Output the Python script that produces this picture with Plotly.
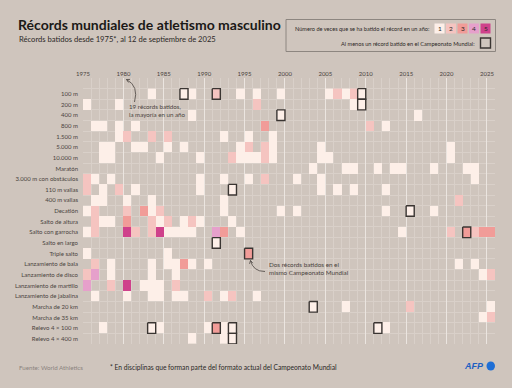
import plotly.graph_objects as go
import math

# ---------------- DATA ----------------
years = list(range(1975, 2026))
disciplines = ["100 m", "200 m", "400 m", "800 m", "1.500 m", "5.000 m", "10.000 m", "Maratón",
               "3.000 m con obstáculos", "110 m vallas", "400 m vallas", "Decatlón", "Salto de altura",
               "Salto con garrocha", "Salto en largo", "Triple salto", "Lanzamiento de bala",
               "Lanzamiento de disco", "Lanzamiento de martillo", "Lanzamiento de jabalina",
               "Marcha de 20 km", "Marcha de 35 km", "Relevo 4 × 100 m", "Relevo 4 × 400 m"]

# (year, number of records that year)
rec_100 = [(1983, 1), (1987, 1), (1988, 1), (1991, 2), (1994, 1), (1996, 1), (1999, 1), (2005, 1), (2006, 2), (2007, 1), (2008, 2), (2009, 1)]
rec_200 = [(1975, 1), (1979, 1), (1996, 2), (2008, 1), (2009, 1)]
rec_400 = [(1988, 1), (1999, 1), (2016, 1)]
rec_800 = [(1976, 1), (1977, 1), (1979, 1), (1981, 1), (1997, 3), (2010, 2), (2012, 1)]
rec_1500 = [(1979, 1), (1980, 2), (1983, 2), (1985, 2), (1992, 1), (1995, 1), (1998, 1)]
rec_5000 = [(1977, 1), (1978, 1), (1981, 1), (1982, 1), (1985, 1), (1987, 1), (1994, 1), (1995, 2), (1997, 2), (1998, 1), (2004, 1), (2020, 1)]
rec_10000 = [(1977, 1), (1978, 1), (1984, 1), (1989, 1), (1993, 2), (1994, 1), (1995, 1), (1996, 1), (1997, 2), (1998, 1), (2004, 1), (2005, 1), (2020, 1)]
rec_maraton = [(2003, 1), (2007, 1), (2008, 1), (2011, 1), (2013, 1), (2014, 1), (2018, 1), (2022, 1), (2023, 1)]
rec_obst = [(1975, 2), (1976, 1), (1978, 1), (1989, 1), (1992, 1), (1995, 1), (1997, 2), (2001, 1), (2004, 1), (2023, 1)]
rec_110v = [(1975, 2), (1977, 1), (1979, 2), (1981, 1), (1989, 1), (1993, 1), (2004, 1), (2006, 1), (2008, 1), (2012, 1)]
rec_400v = [(1976, 1), (1977, 1), (1980, 1), (1983, 1), (1992, 1), (2021, 2)]
rec_decat = [(1975, 1), (1976, 2), (1980, 2), (1982, 3), (1983, 1), (1984, 2), (1992, 1), (1999, 1), (2001, 1), (2012, 1), (2015, 1), (2018, 1)]
rec_altura = [(1976, 2), (1977, 1), (1978, 1), (1980, 3), (1983, 2), (1984, 1), (1985, 2), (1987, 1), (1988, 2), (1989, 1), (1993, 1)]
rec_garrocha = [(1975, 1), (1976, 2), (1980, 5), (1981, 2), (1983, 2), (1984, 5), (1985, 1), (1986, 1), (1987, 1), (1988, 1), (1991, 4), (1992, 3), (1994, 1), (2014, 1), (2020, 2), (2022, 3), (2023, 2), (2024, 3), (2025, 3)]
rec_largo = [(1991, 1)]
rec_triple = [(1975, 1), (1985, 1), (1995, 3)]
rec_bala = [(1976, 2), (1978, 1), (1983, 1), (1985, 1), (1986, 1), (1987, 3), (1988, 1), (1990, 1), (2021, 1), (2023, 1)]
rec_disco = [(1975, 2), (1976, 4), (1978, 1), (1983, 1), (1986, 1), (2024, 1), (2025, 2)]
rec_martillo = [(1975, 4), (1978, 2), (1980, 5), (1982, 1), (1983, 1), (1984, 1), (1986, 2)]
rec_jabalina = [(1976, 1), (1980, 1), (1983, 1), (1984, 1), (1986, 1), (1987, 1), (1990, 2), (1992, 1), (1993, 2), (1996, 1)]
rec_marcha20 = [(2003, 1), (2007, 1), (2015, 2), (2025, 1)]
rec_marcha35 = [(2024, 1), (2025, 2)]
rec_4x100 = [(1977, 1), (1983, 1), (1984, 1), (1990, 1), (1991, 3), (1992, 1), (1993, 1), (2011, 1), (2012, 1)]
rec_4x400 = [(1988, 1), (1992, 1), (1993, 1)]

records = [rec_100, rec_200, rec_400, rec_800, rec_1500, rec_5000, rec_10000, rec_maraton,
           rec_obst, rec_110v, rec_400v, rec_decat, rec_altura, rec_garrocha, rec_largo, rec_triple,
           rec_bala, rec_disco, rec_martillo, rec_jabalina, rec_marcha20, rec_marcha35, rec_4x100, rec_4x400]

# at least one record at the World Championships
wch_discipline = ["100 m", "100 m", "100 m", "200 m", "400 m", "110 m vallas", "Decatlón",
                  "Salto con garrocha", "Salto en largo", "Triple salto", "Marcha de 20 km",
                  "Relevo 4 × 100 m", "Relevo 4 × 100 m", "Relevo 4 × 100 m", "Relevo 4 × 100 m", "Relevo 4 × 400 m"]
wch_year = [1987, 1991, 2009, 2009, 1999, 1993, 2015, 2022, 1991, 1995, 2003, 1983, 1991, 1993, 2011, 1993]

legend_counts = [1, 2, 3, 4, 5]
year_ticks = list(range(1975, 2026, 5))

# ---------------- STYLE ----------------
BG = "#cfc5bd"
COLORS = ["#fdefe8", "#f5c4c0", "#f19c98", "#e6a0cb", "#cf418b"]
FONT = "Lato"
W, H = 512, 388
ML, MR, MT, MB = 83, 17, 78, 44
PW, PH = W - ML - MR, H - MT - MB

def pxx(x):  # pixel -> paper x
    return (x - ML) / PW

def pxy(y):  # pixel -> paper y
    return (H - MB - y) / PH

def dx(x):  # pixel -> data x
    return years[0] + (x - ML) / PW * (len(years))

def dy(y):  # pixel -> data y
    return -1.5 + (y - MT) / PH * 25

# ---------------- HEATMAP MATRIX ----------------
z = []
for rec in records:
    row = [None] * len(years)
    for yr, n in rec:
        row[yr - years[0]] = n
    z.append(row)

cs = []
for i, c in enumerate(COLORS):
    cs.append([i / 5, c])
    cs.append([(i + 1) / 5, c])

fig = go.Figure()
fig.add_trace(go.Heatmap(
    z=z,
    x=years + [years[-1] + 1],
    y=[i - 0.5 for i in range(len(disciplines) + 1)],
    zmin=0.5, zmax=5.5, colorscale=cs, showscale=False, hoverongaps=False,
))

# outlines for World Championship cells
ox, oy = [], []
for d, yr in zip(wch_discipline, wch_year):
    r = disciplines.index(d)
    ox += [yr, yr + 1, yr + 1, yr, yr, None]
    oy += [r - 0.5, r - 0.5, r + 0.5, r + 0.5, r - 0.5, None]
fig.add_trace(go.Scatter(x=ox, y=oy, mode="lines", line=dict(color="#3a3532", width=1.4),
                         hoverinfo="skip", showlegend=False))

shapes = []
annotations = []

def arrow(p0, c, p1):
    path = f"M {dx(p0[0])},{dy(p0[1])} Q {dx(c[0])},{dy(c[1])} {dx(p1[0])},{dy(p1[1])}"
    shapes.append(dict(type="path", path=path, xref="x", yref="y",
                       line=dict(color="#4a4440", width=0.8)))
    vx, vy = p1[0] - c[0], p1[1] - c[1]
    L = math.hypot(vx, vy)
    vx, vy = vx / L, vy / L
    for ang in (0.5, -0.5):
        ca, sa = math.cos(ang), math.sin(ang)
        bx = -(vx * ca - vy * sa) * 3.5
        by = -(vx * sa + vy * ca) * 3.5
        shapes.append(dict(type="line", xref="x", yref="y",
                           x0=dx(p1[0]), y0=dy(p1[1]), x1=dx(p1[0] + bx), y1=dy(p1[1] + by),
                           line=dict(color="#4a4440", width=0.8)))

arrow((134.5, 102), (139, 86), (126.5, 79.5))
arrow((265, 271.5), (253, 271.5), (250.5, 260.5))

annotations.append(dict(text="19 récords batidos,<br>la mayoría en un año", xref="paper", yref="paper",
                        x=pxx(126.5), y=pxy(110), xanchor="left", yanchor="middle", align="left",
                        showarrow=False, font=dict(family=FONT, size=6.2, color="#4a4440")))
annotations.append(dict(text="Dos récords batidos en el<br>mismo Campeonato Mundial", xref="paper", yref="paper",
                        x=pxx(266.5), y=pxy(268.5), xanchor="left", yanchor="middle", align="left",
                        showarrow=False, font=dict(family=FONT, size=6.3, color="#4a4440")))

# title / subtitle
annotations.append(dict(text="<b>Récords mundiales de atletismo masculino</b>", xref="paper", yref="paper",
                        x=pxx(16), y=pxy(25), xanchor="left", yanchor="middle", showarrow=False,
                        font=dict(family=FONT, size=14, color="#1b1917")))
annotations.append(dict(text="Récords batidos desde 1975*, al 12 de septiembre de 2025", xref="paper", yref="paper",
                        x=pxx(16.5), y=pxy(39), xanchor="left", yanchor="middle", showarrow=False,
                        font=dict(family=FONT, size=7.6, color="#2b2826")))

# legend box
shapes.append(dict(type="rect", xref="paper", yref="paper", x0=pxx(286), x1=pxx(495.5),
                   y0=pxy(19.5), y1=pxy(51.5), line=dict(color="#8d8680", width=1)))
annotations.append(dict(text="Número de veces que se ha batido el récord en un año:", xref="paper", yref="paper",
                        x=pxx(432), y=pxy(28.5), xanchor="right", yanchor="middle", showarrow=False,
                        font=dict(family=FONT, size=5.6, color="#2b2826")))
for i, n in enumerate(legend_counts):
    x0 = 434.5 + 11.5 * i
    shapes.append(dict(type="rect", xref="paper", yref="paper", x0=pxx(x0), x1=pxx(x0 + 10),
                       y0=pxy(23.5), y1=pxy(33.5), fillcolor=COLORS[n - 1], line=dict(width=0)))
    annotations.append(dict(text=str(n), xref="paper", yref="paper", x=pxx(x0 + 5), y=pxy(28.5),
                            xanchor="center", yanchor="middle", showarrow=False,
                            font=dict(family=FONT, size=6.5, color="#2b2826")))
annotations.append(dict(text="Al menos un récord batido en el Campeonato Mundial:", xref="paper", yref="paper",
                        x=pxx(477), y=pxy(43), xanchor="right", yanchor="middle", showarrow=False,
                        font=dict(family=FONT, size=5.6, color="#2b2826")))
shapes.append(dict(type="rect", xref="paper", yref="paper", x0=pxx(480.5), x1=pxx(490.5),
                   y0=pxy(38), y1=pxy(48), line=dict(color="#3a3532", width=1.4)))

# footer
annotations.append(dict(text="Fuente: World Athletics", xref="paper", yref="paper",
                        x=pxx(16.5), y=pxy(367), xanchor="left", yanchor="middle", showarrow=False,
                        font=dict(family=FONT, size=6.2, color="#8a837d")))
annotations.append(dict(text="* En disciplinas que forman parte del formato actual del Campeonato Mundial",
                        xref="paper", yref="paper", x=pxx(107.5), y=pxy(367), xanchor="left", yanchor="middle",
                        showarrow=False, font=dict(family=FONT, size=6.7, color="#2b2826")))
annotations.append(dict(text="<b><i>AFP</i></b>", xref="paper", yref="paper", x=pxx(486), y=pxy(366),
                        xanchor="right", yanchor="middle", showarrow=False,
                        font=dict(family="Liberation Sans", size=9, color="#1d5fc2")))
shapes.append(dict(type="circle", xref="paper", yref="paper", x0=pxx(486.5), x1=pxx(495),
                   y0=pxy(361.5), y1=pxy(370.5), fillcolor="#1f6fd6", line=dict(width=0)))

fig.update_layout(
    width=W, height=H, margin=dict(l=ML, r=MR, t=MT, b=MB, autoexpand=False),
    paper_bgcolor=BG, plot_bgcolor=BG,
    shapes=shapes, annotations=annotations, showlegend=False,
    xaxis=dict(range=[years[0], years[-1] + 1], side="top", tickvals=year_ticks, automargin=False,
               ticks="", showgrid=True, gridcolor="#ebe5e0", gridwidth=1, zeroline=False, showline=False,
               tickfont=dict(family=FONT, size=6, color="#4a4440"),
               minor=dict(dtick=1, tick0=years[0], showgrid=True, gridcolor="#d9d0c9", gridwidth=1)),
    yaxis=dict(range=[23.5, -1.5], tickvals=list(range(len(disciplines))), ticktext=disciplines,
               ticks="", showgrid=False, zeroline=False, showline=False, ticklabelstandoff=4, automargin=False,
               tickfont=dict(family=FONT, size=6, color="#4a4440"),
               minor=dict(tick0=-0.5, dtick=1, showgrid=True, gridcolor="#d9d0c9", gridwidth=1)),
)

fig.write_html("out.html", config={"displayModeBar": False},
               post_script="document.body.style.margin='0';document.body.style.background='%s';" % BG)
